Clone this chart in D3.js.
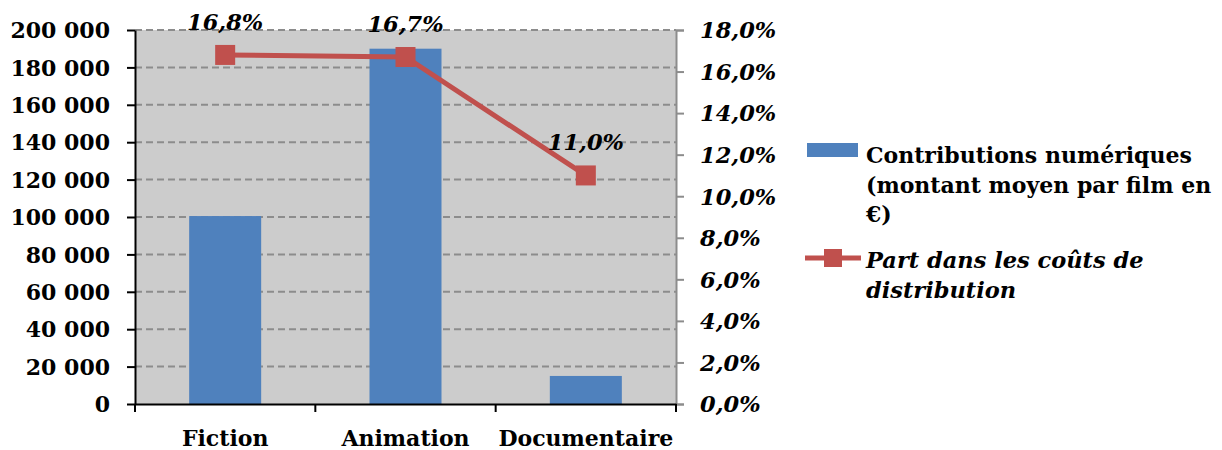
<!DOCTYPE html>
<html>
<head>
<meta charset="utf-8">
<script src="https://cdn.jsdelivr.net/npm/d3@7"></script>
<style>
  body { margin: 0; background: #fff; }
  svg text { font-family: "DejaVu Serif", serif; font-weight: bold; fill: #000; }
</style>
</head>
<body>
<svg></svg>
<script>
var width = 1222;
var height = 450;

var categories = ["Fiction", "Animation", "Documentaire"];
var contributions = [100500, 190000, 15000];
var shares = [0.168, 0.167, 0.110];
var leftTicks = [0, 20000, 40000, 60000, 80000, 100000, 120000, 140000, 160000, 180000, 200000];
var rightTicks = [0, 0.02, 0.04, 0.06, 0.08, 0.10, 0.12, 0.14, 0.16, 0.18];
var barLegend = ["Contributions numériques", "(montant moyen par film en", "€)"];
var lineLegend = ["Part dans les coûts de", "distribution"];

var plot = { left: 135, right: 676, top: 30, bottom: 404 };
var fontSize = "22px";
var italicSize = "22.5px";

var fr = d3.formatLocale({ decimal: ",", thousands: " ", grouping: [3], currency: ["", " €"] });
var fmtNum = fr.format(",");
var fmtPct = fr.format(".1%");

var svg = d3.select("svg")
    .attr("width", width)
    .attr("height", height);

var x = d3.scaleBand()
    .domain(categories)
    .range([plot.left, plot.right]);

var yLeft = d3.scaleLinear()
    .domain([0, 200000])
    .range([plot.bottom, plot.top]);

var yRight = d3.scaleLinear()
    .domain([0, 0.18])
    .range([plot.bottom, plot.top]);

// plot background
svg.append("rect")
    .attr("x", plot.left)
    .attr("y", plot.top)
    .attr("width", plot.right - plot.left)
    .attr("height", plot.bottom - plot.top)
    .attr("fill", "#cccccc");

// dashed gridlines
svg.append("g")
  .selectAll("line")
  .data(leftTicks.filter(d => d > 0))
  .enter()
    .append("line")
    .attr("x1", plot.left)
    .attr("x2", plot.right)
    .attr("y1", d => yLeft(d))
    .attr("y2", d => yLeft(d))
    .attr("stroke", "#8c8c8c")
    .attr("stroke-width", 2)
    .attr("stroke-dasharray", "7,4");

// bars
var barWidth = 72;
svg.append("g")
  .selectAll("rect")
  .data(contributions)
  .enter()
    .append("rect")
    .attr("x", (d, i) => x(categories[i]) + x.bandwidth() / 2 - barWidth / 2)
    .attr("y", d => yLeft(d))
    .attr("width", barWidth)
    .attr("height", d => plot.bottom - yLeft(d))
    .attr("fill", "#4f81bd");

// right axis (gray)
var rightAxis = svg.append("g")
    .attr("transform", "translate(" + plot.right + ",0)")
    .call(d3.axisRight(yRight).tickValues(rightTicks).tickSize(8).tickFormat(fmtPct));
rightAxis.select(".domain").attr("stroke", "#8c8c8c").attr("stroke-width", 2);
rightAxis.selectAll(".tick line").attr("stroke", "#8c8c8c").attr("stroke-width", 2);
rightAxis.selectAll("text")
    .attr("x", 24)
    .attr("dy", "0.35em")
    .style("font-size", italicSize)
    .style("font-style", "italic");

// left axis
var leftAxis = svg.append("g")
    .attr("transform", "translate(" + plot.left + ",0)")
    .call(d3.axisLeft(yLeft).tickValues(leftTicks).tickSize(8).tickSizeOuter(0).tickFormat(fmtNum));
leftAxis.select(".domain").attr("stroke", "#000").attr("stroke-width", 2);
leftAxis.selectAll(".tick line").attr("stroke", "#000").attr("stroke-width", 2);
leftAxis.selectAll("text")
    .attr("x", -25)
    .attr("dy", "0.35em")
    .style("font-size", fontSize);

// bottom axis
var bottomAxis = svg.append("g")
    .attr("transform", "translate(0," + plot.bottom + ")")
    .call(d3.axisBottom(x).tickSize(0).tickSizeOuter(0));
bottomAxis.select(".domain").attr("stroke", "#000").attr("stroke-width", 2);
bottomAxis.selectAll("text")
    .attr("y", 42)
    .attr("dy", 0)
    .style("font-size", fontSize);

svg.append("g")
  .selectAll("line")
  .data(d3.range(categories.length + 1))
  .enter()
    .append("line")
    .attr("x1", d => plot.left + d * x.step())
    .attr("x2", d => plot.left + d * x.step())
    .attr("y1", plot.bottom)
    .attr("y2", plot.bottom + 8)
    .attr("stroke", "#000")
    .attr("stroke-width", 2);

// line series
var cx = (d, i) => x(categories[i]) + x.bandwidth() / 2;
var line = d3.line()
    .x(cx)
    .y(d => yRight(d));

svg.append("path")
    .datum(shares)
    .attr("d", line)
    .attr("fill", "none")
    .attr("stroke", "#c0504d")
    .attr("stroke-width", 5);

svg.append("g")
  .selectAll("rect")
  .data(shares)
  .enter()
    .append("rect")
    .attr("x", (d, i) => cx(d, i) - 10)
    .attr("y", d => yRight(d) - 10)
    .attr("width", 20)
    .attr("height", 20)
    .attr("fill", "#c0504d");

svg.append("g")
  .selectAll("text")
  .data(shares)
  .enter()
    .append("text")
    .attr("x", cx)
    .attr("y", d => yRight(d) - 25)
    .attr("text-anchor", "middle")
    .style("font-size", italicSize)
    .style("font-style", "italic")
    .text(d => fmtPct(d));

// legend
var legend = svg.append("g");
legend.append("rect")
    .attr("x", 807)
    .attr("y", 143)
    .attr("width", 51)
    .attr("height", 14)
    .attr("fill", "#4f81bd");
legend.append("text")
    .style("font-size", fontSize)
  .selectAll("tspan")
  .data(barLegend)
  .enter()
    .append("tspan")
    .attr("x", 866)
    .attr("y", (d, i) => 163 + i * 29.5)
    .text(d => d);

legend.append("line")
    .attr("x1", 805)
    .attr("x2", 861)
    .attr("y1", 258)
    .attr("y2", 258)
    .attr("stroke", "#c0504d")
    .attr("stroke-width", 5);
legend.append("rect")
    .attr("x", 824)
    .attr("y", 249)
    .attr("width", 18)
    .attr("height", 18)
    .attr("fill", "#c0504d");
legend.append("text")
    .style("font-size", italicSize)
    .style("font-style", "italic")
  .selectAll("tspan")
  .data(lineLegend)
  .enter()
    .append("tspan")
    .attr("x", 866)
    .attr("y", (d, i) => 268 + i * 29.5)
    .text(d => d);
</script>
</body>
</html>
